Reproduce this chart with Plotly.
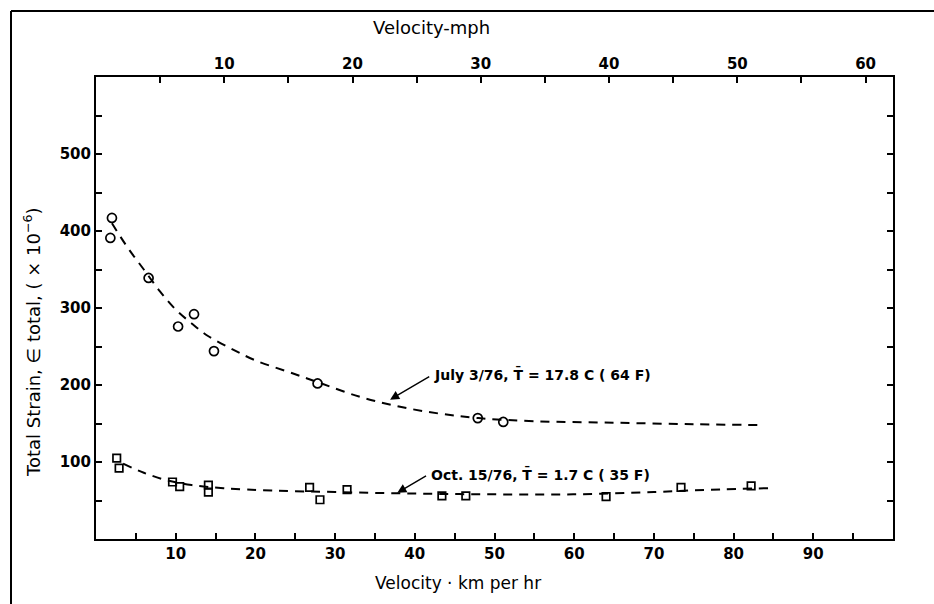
import plotly.graph_objects as go

# ---- data (velocity in km/h, strain x1e-6) ----
july_v = [2.0, 1.8, 6.6, 10.3, 12.3, 14.8, 27.8, 47.9, 51.1]
july_e = [417, 391, 339, 276, 292, 244, 202, 157, 152]
july_curve_v = [2, 4, 6, 8, 10, 12, 14, 17, 20, 25, 28, 33, 38, 43, 48, 55, 65, 75, 83.5]
july_curve_e = [410, 378, 350, 322, 298, 280, 264, 247, 232, 214, 203, 185, 172, 163, 157, 153, 151, 149, 148]

oct_v = [2.6, 2.9, 9.6, 10.5, 14.1, 14.1, 26.8, 28.1, 31.5, 43.4, 46.4, 64.0, 73.4, 82.2]
oct_e = [105, 92, 74, 68, 70, 61, 67, 51, 64, 56, 56, 55, 67, 69]
oct_curve_v = [3.4, 6, 9, 12, 16, 22, 30, 40, 50, 60, 70, 77, 84.5]
oct_curve_e = [98, 86, 76, 70, 66, 63, 61, 59, 58, 58, 61, 64, 66]

kmh_ticks = list(range(0, 101, 5))
kmh_labels = ["" if (t % 10 or t in (0, 100)) else str(t) for t in kmh_ticks]
mph_ticks = list(range(5, 61, 5))
mph_labels = [str(t) if t % 10 == 0 else "" for t in mph_ticks]
y_ticks = list(range(0, 601, 50))
y_labels = [str(t) if (t % 100 == 0 and 0 < t < 600) else "" for t in y_ticks]
KMH_PER_MPH = 1.609344

FONT = "DejaVu Sans"
fig = go.Figure()

fig.add_trace(go.Scatter(x=july_curve_v, y=july_curve_e, mode="lines", line_shape="spline",
                         line=dict(color="black", width=2, dash="9px,7px"), hoverinfo="skip"))
fig.add_trace(go.Scatter(x=oct_curve_v, y=oct_curve_e, mode="lines", line_shape="spline",
                         line=dict(color="black", width=2, dash="9px,7px"), hoverinfo="skip"))
fig.add_trace(go.Scatter(x=july_v, y=july_e, mode="markers",
                         marker=dict(symbol="circle-open", size=9, color="black", line=dict(width=1.7))))
fig.add_trace(go.Scatter(x=oct_v, y=oct_e, mode="markers",
                         marker=dict(symbol="square-open", size=7.5, color="black", line=dict(width=1.7))))
# carrier for top (mph) axis
fig.add_trace(go.Scatter(x=[None], y=[None], xaxis="x2", yaxis="y", mode="markers",
                         showlegend=False, hoverinfo="skip"))

tickfont = dict(family=FONT, size=15, color="black", weight="bold")
fig.update_layout(
    width=934, height=604,
    margin=dict(l=96, r=41, t=77, b=65),
    paper_bgcolor="white", plot_bgcolor="white",
    showlegend=False,
    font=dict(family=FONT, color="black"),
    xaxis=dict(range=[0, 100], tickvals=kmh_ticks, ticktext=kmh_labels,
               ticks="inside", ticklen=6, tickwidth=1.5, tickcolor="black",
               showline=True, linecolor="black", linewidth=2, mirror=True,
               showgrid=False, zeroline=False, tickfont=tickfont),
    xaxis2=dict(range=[0, 100 / KMH_PER_MPH], overlaying="x", side="top", anchor="y",
                tickvals=mph_ticks, ticktext=mph_labels,
                ticks="inside", ticklen=6, tickwidth=1.5, tickcolor="black",
                showline=True, linecolor="black", linewidth=2,
                showgrid=False, zeroline=False, tickfont=tickfont),
    yaxis=dict(range=[0, 600], tickvals=y_ticks, ticktext=y_labels,
               ticks="inside", ticklen=6, tickwidth=1.5, tickcolor="black",
               showline=True, linecolor="black", linewidth=2, mirror="ticks",
               showgrid=False, zeroline=False, tickfont=tickfont),
)

annfont = dict(family=FONT, size=14, color="black", weight="bold")
anns = [
    dict(x=42.1, y=214, xref="x", yref="y", text="July 3/76, T̄ = 17.8 C ( 64 F)",
         showarrow=False, xanchor="left", yanchor="middle", font=annfont),
    dict(x=36.9, y=181, xref="x", yref="y", ax=42.0, ay=212, axref="x", ayref="y",
         text="", showarrow=True, arrowhead=2, arrowsize=1.3, arrowwidth=1.4, arrowcolor="black"),
    dict(x=41.8, y=85, xref="x", yref="y", text="Oct. 15/76, T̄ = 1.7 C ( 35 F)",
         showarrow=False, xanchor="left", yanchor="middle", font=annfont),
    dict(x=37.8, y=60, xref="x", yref="y", ax=41.6, ay=83, axref="x", ayref="y",
         text="", showarrow=True, arrowhead=2, arrowsize=1.3, arrowwidth=1.4, arrowcolor="black"),
    dict(x=(431 - 96) / 797, y=(539 - 27) / 462, xref="paper", yref="paper",
         text="Velocity-mph", showarrow=False, xanchor="center", yanchor="middle",
         font=dict(family=FONT, size=18, color="black")),
    dict(x=(458 - 96) / 797, y=(539 - 583) / 462, xref="paper", yref="paper",
         text="Velocity · km per hr", showarrow=False, xanchor="center", yanchor="middle",
         font=dict(family=FONT, size=17, color="black")),
    dict(x=(32 - 96) / 797, y=(539 - 342) / 462, xref="paper", yref="paper",
         text="Total Strain, ∈ total, ( × 10<sup>−6</sup>)", textangle=-90,
         showarrow=False, xanchor="center", yanchor="middle",
         font=dict(family=FONT, size=18, color="black")),
]
fig.update_layout(annotations=anns)

# outer scan frame (left and top edges)
fx = (11 - 96) / 797
fy = (539 - 11) / 462
fig.add_shape(type="line", xref="paper", yref="paper", x0=fx, y0=fy, x1=fx, y1=(539 - 604) / 462,
              line=dict(color="black", width=2))
fig.add_shape(type="line", xref="paper", yref="paper", x0=fx, y0=fy, x1=(934 - 96) / 797, y1=fy,
              line=dict(color="black", width=2))

fig.write_html("out.html")
